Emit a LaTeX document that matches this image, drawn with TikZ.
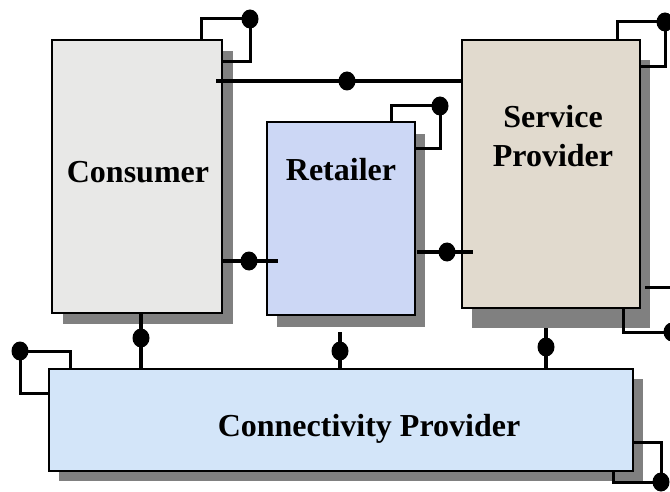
\documentclass[tikz,border=0pt]{standalone}
\usepackage{fontspec}
\setmainfont{Liberation Serif}
\usetikzlibrary{shapes,shadows,calc,positioning}

\definecolor{consfill}{HTML}{E8E8E7}
\definecolor{retfill}{HTML}{CCD7F5}
\definecolor{servfill}{HTML}{E1DACE}
\definecolor{connfill}{HTML}{D3E5F9}

\begin{document}
\begin{tikzpicture}[x=1pt,y=-1pt,
  block/.style={draw,line width=1.5pt,rectangle,outer sep=0pt,inner sep=0pt},
  shade/.style 2 args={drop shadow={shadow xshift=#1,shadow yshift=#2,fill=black!50,opacity=1}},
  port/.style={ellipse,fill,inner sep=0pt,minimum width=17pt,minimum height=19pt},
  link/.style={line width=4pt},
  ring/.style={line width=3pt},
  lbl/.style={font=\fontsize{32}{39}\selectfont\bfseries,align=center,inner sep=0pt}]

        \path[use as bounding box,clip] (0,0) rectangle (670,492);

        \node (cons) [block,fill=consfill,minimum width=170pt,minimum height=273pt,shade={11pt}{-11pt}] at (137,176.5) {};
        \node (ret) [block,fill=retfill,minimum width=148pt,minimum height=193pt,shade={10pt}{-12pt}] at (341,218.5) {};
        \node (serv) [block,fill=servfill,minimum width=178pt,minimum height=268pt,shade={10pt}{-20pt}] at (551,174) {};
        \node (conn) [block,fill=connfill,minimum width=584pt,minimum height=102pt,shade={10pt}{-10pt}] at (341,420) {};

        % links between the parties
        \node (d1) [port] at (347,81) {};
        \draw[link,shorten <=-6pt] (cons.east |- d1) -- (serv.west |- d1);
        \node (d2) [port] at (249,261) {};
        \draw[link,shorten >=-11pt] (cons.east |- d2) -- (ret.west |- d2);
        \node (d3) [port] at (447,252) {};
        \draw[link,shorten <=2pt,shorten >=-11pt] (ret.east |- d3) -- (serv.west |- d3);

        \node (d4) [port] at (141,338) {};
        \draw[link] (cons.south -| d4) -- (conn.north -| d4);
        \node (d5) [port] at (340,351) {};
        \draw[link,shorten <=17pt] (ret.south -| d5) -- (conn.north -| d5);
        \node (d6) [port] at (546,347) {};
        \draw[link,shorten <=20pt] (serv.south -| d6) -- (conn.north -| d6);

        % self loops
        \node (r1) [port] at (250,19) {};
        \draw[ring] ([xshift=-21pt]cons.north east) |- (r1.center) |- ([yshift=-22pt]cons.north east);
        \node (r2) [port] at (440,106) {};
        \draw[ring] ([xshift=-24pt]ret.north east) |- (r2.center) |- ([yshift=-27pt]ret.north east);
        \node (r3) [port] at (665,22) {};
        \draw[ring] ([xshift=-23pt]serv.north east) |- (r3.center) |- ([yshift=-27pt]serv.north east);
        \node (r4) [port] at (672,332) {};
        \draw[ring,shorten >=5pt] ([xshift=-17pt]serv.south east) |- (r4.center) |- ([yshift=21pt]serv.south east);
        \node (r5) [port] at (20,351) {};
        \draw[ring] ([xshift=21pt]conn.north west) |- (r5.center) |- ([yshift=-24pt]conn.north west);
        \node (r6) [port] at (661,482) {};
        \draw[ring] ([yshift=-73pt]conn.north east) -| (r6.center) -| ([xshift=-20pt]conn.south east);

        \node (consT) [lbl,anchor=base] at (138,183) {Consumer};
        \node (retT) [lbl,anchor=base] at (341,181) {Retailer};
        \node (servT) [lbl] at (553,136) {Service\\Provider};
        \node (connT) [lbl,anchor=base] at (369,436) {Connectivity Provider};
      \end{tikzpicture}
\end{document}
